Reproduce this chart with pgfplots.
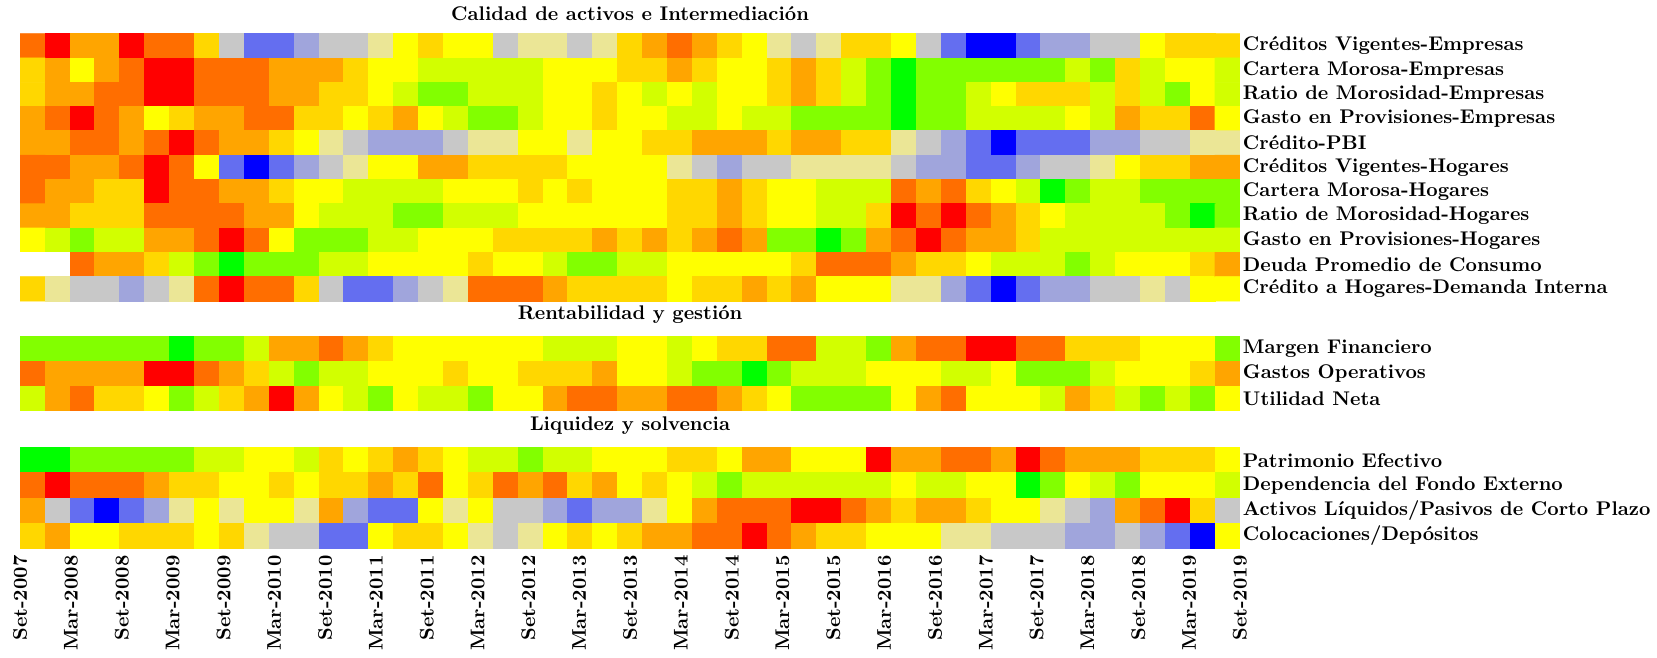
\documentclass[border=0pt]{standalone}
\usepackage{pgfplots}
\pgfplotsset{compat=1.18}
\begin{document}
\pgfplotsset{
  hm/.style={
    scale only axis, width=616pt, xmin=-0.5, xmax=48.5,
    y dir=reverse, ymin=-0.5,
    axis line style={draw=none}, tick style={draw=none},
    yticklabel pos=right,
    yticklabel style={font=\bfseries, xshift=-2pt},
    title style={font=\bfseries, yshift=-3pt},
    colormap={hmc}{rgb255=(0,0,255) rgb255=(100,110,240) rgb255=(160,165,220) rgb255=(200,200,200) rgb255=(235,230,150) rgb255=(255,255,0) rgb255=(255,215,0) rgb255=(255,165,0) rgb255=(255,110,0) rgb255=(255,0,0) rgb255=(210,255,0) rgb255=(130,255,0) rgb255=(0,255,0) rgb255=(255,255,255)},
    colormap access=direct,
    xtick={-0.5,1.542,3.583,5.625,7.667,9.708,11.75,13.792,15.833,17.875,19.917,21.958,24,26.042,28.083,30.125,32.167,34.208,36.25,38.292,40.333,42.375,44.417,46.458,48.5},
    xticklabels={},
  },
  hmplot/.style={matrix plot*, mesh/cols=49, point meta=explicit},
  table/hmtab/.style={header=false, x expr={round(mod(\coordindex,49))}, y expr={floor((\coordindex+0.5)/49)}, meta index=0, row sep=\\},
}
\begin{tikzpicture}
\begin{axis}[hm, at={(0,0)}, anchor=north west, height=135pt, ymax=10.5,
  title={Calidad de activos e Intermediación}, ytick={0,...,10},
  yticklabels={Créditos Vigentes-Empresas,Cartera Morosa-Empresas,Ratio de Morosidad-Empresas,Gasto en Provisiones-Empresas,Crédito-PBI,Créditos Vigentes-Hogares,Cartera Morosa-Hogares,Ratio de Morosidad-Hogares,Gasto en Provisiones-Hogares,Deuda Promedio de Consumo,Crédito a Hogares-Demanda Interna}]
\addplot[hmplot, mesh/rows=11] table[hmtab] {
8\\9\\7\\7\\9\\8\\8\\6\\3\\1\\1\\2\\3\\3\\4\\5\\6\\5\\5\\3\\4\\4\\3\\4\\6\\7\\8\\7\\6\\5\\4\\3\\4\\6\\6\\5\\3\\1\\0\\0\\1\\2\\2\\3\\3\\5\\6\\6\\6\\
6\\7\\5\\7\\8\\9\\9\\8\\8\\8\\7\\7\\7\\6\\5\\5\\10\\10\\10\\10\\10\\5\\5\\5\\6\\6\\7\\6\\5\\5\\6\\7\\6\\10\\11\\12\\11\\11\\11\\11\\11\\11\\10\\11\\6\\10\\5\\5\\10\\
6\\7\\7\\8\\8\\9\\9\\8\\8\\8\\7\\7\\6\\6\\5\\10\\11\\11\\10\\10\\10\\5\\5\\6\\5\\10\\5\\10\\5\\5\\6\\7\\6\\10\\11\\12\\11\\11\\10\\5\\6\\6\\6\\10\\6\\10\\11\\5\\10\\
7\\8\\9\\8\\7\\5\\6\\7\\7\\8\\8\\6\\6\\5\\6\\7\\5\\10\\11\\11\\10\\5\\5\\6\\5\\5\\10\\10\\5\\10\\10\\11\\11\\11\\11\\12\\11\\11\\10\\10\\10\\10\\5\\10\\7\\6\\6\\8\\5\\
7\\7\\8\\8\\7\\8\\9\\8\\7\\7\\6\\5\\4\\3\\2\\2\\2\\3\\4\\4\\5\\5\\4\\5\\5\\6\\6\\7\\7\\7\\6\\7\\7\\6\\6\\4\\3\\2\\1\\0\\1\\1\\1\\2\\2\\3\\3\\4\\4\\
8\\8\\7\\7\\8\\9\\8\\5\\1\\0\\1\\2\\3\\4\\5\\5\\7\\7\\6\\6\\6\\6\\5\\5\\5\\5\\4\\3\\2\\3\\3\\4\\4\\4\\4\\3\\2\\2\\1\\1\\2\\3\\3\\4\\5\\6\\6\\7\\7\\
8\\7\\7\\6\\6\\9\\8\\8\\7\\7\\6\\5\\5\\10\\10\\10\\10\\5\\5\\5\\6\\5\\6\\5\\5\\5\\6\\6\\7\\6\\5\\5\\10\\10\\10\\8\\7\\8\\6\\5\\10\\12\\11\\10\\10\\11\\11\\11\\11\\
7\\7\\6\\6\\6\\8\\8\\8\\8\\7\\7\\5\\10\\10\\10\\11\\11\\10\\10\\10\\5\\5\\5\\5\\5\\5\\6\\6\\7\\6\\5\\5\\10\\10\\6\\9\\8\\9\\8\\7\\6\\5\\10\\10\\10\\10\\11\\12\\11\\
5\\10\\11\\10\\10\\7\\7\\8\\9\\8\\5\\11\\11\\11\\10\\10\\5\\5\\5\\6\\6\\6\\6\\7\\6\\7\\6\\7\\8\\7\\11\\11\\12\\11\\7\\8\\9\\8\\7\\7\\6\\10\\10\\10\\10\\10\\10\\10\\10\\
13\\13\\8\\7\\7\\6\\10\\11\\12\\11\\11\\11\\10\\10\\5\\5\\5\\5\\6\\5\\5\\10\\11\\11\\10\\10\\5\\5\\5\\5\\5\\6\\8\\8\\8\\7\\6\\6\\5\\10\\10\\10\\11\\10\\5\\5\\5\\6\\7\\
6\\4\\3\\3\\2\\3\\4\\8\\9\\8\\8\\6\\3\\1\\1\\2\\3\\4\\8\\8\\8\\7\\6\\6\\6\\6\\5\\6\\6\\7\\6\\7\\5\\5\\5\\4\\4\\2\\1\\0\\1\\2\\2\\3\\3\\4\\3\\5\\5\\
};
\end{axis}
\begin{axis}[hm, at={(0,-153pt)}, anchor=north west, height=37.5pt, ymax=2.5,
  title={Rentabilidad y gestión}, ytick={0,1,2},
  yticklabels={Margen Financiero,Gastos Operativos,Utilidad Neta}]
\addplot[hmplot, mesh/rows=3] table[hmtab] {
11\\11\\11\\11\\11\\11\\12\\11\\11\\10\\7\\7\\8\\7\\6\\5\\5\\5\\5\\5\\5\\10\\10\\10\\5\\5\\10\\5\\6\\6\\8\\8\\10\\10\\11\\7\\8\\8\\9\\9\\8\\8\\6\\6\\6\\5\\5\\5\\11\\
8\\7\\7\\7\\7\\9\\9\\8\\7\\6\\10\\11\\10\\10\\5\\5\\5\\6\\5\\5\\6\\6\\6\\7\\5\\5\\10\\11\\11\\12\\11\\10\\10\\10\\5\\5\\5\\10\\10\\5\\11\\11\\11\\10\\5\\5\\5\\6\\7\\
10\\7\\8\\6\\6\\5\\11\\10\\6\\7\\9\\7\\5\\10\\11\\5\\10\\10\\11\\5\\5\\7\\8\\8\\7\\7\\8\\8\\7\\6\\5\\11\\11\\11\\11\\5\\7\\8\\5\\5\\5\\10\\7\\6\\10\\11\\10\\11\\5\\
};
\end{axis}
\begin{axis}[hm, at={(0,-209pt)}, anchor=north west, height=51pt, ymax=3.5,
  title={Liquidez y solvencia}, ytick={0,...,3},
  yticklabels={Patrimonio Efectivo,Dependencia del Fondo Externo,Activos Líquidos/Pasivos de Corto Plazo,Colocaciones/Depósitos},
  xticklabels={Set-2007,Mar-2008,Set-2008,Mar-2009,Set-2009,Mar-2010,Set-2010,Mar-2011,Set-2011,Mar-2012,Set-2012,Mar-2013,Set-2013,Mar-2014,Set-2014,Mar-2015,Set-2015,Mar-2016,Set-2016,Mar-2017,Set-2017,Mar-2018,Set-2018,Mar-2019,Set-2019},
  xticklabel style={font=\bfseries, rotate=90, anchor=east}]
\addplot[hmplot, mesh/rows=4] table[hmtab] {
12\\12\\11\\11\\11\\11\\11\\10\\10\\5\\5\\10\\6\\5\\6\\7\\6\\5\\10\\10\\11\\10\\10\\5\\5\\5\\6\\6\\5\\7\\7\\5\\5\\5\\9\\7\\7\\8\\8\\7\\9\\8\\7\\7\\7\\6\\6\\6\\5\\
8\\9\\8\\8\\8\\7\\6\\6\\5\\5\\6\\5\\6\\6\\7\\6\\8\\5\\6\\8\\7\\8\\6\\7\\5\\6\\5\\10\\11\\10\\10\\10\\10\\10\\10\\5\\10\\10\\5\\5\\12\\11\\5\\10\\11\\5\\5\\5\\10\\
7\\3\\1\\0\\1\\2\\4\\5\\4\\5\\5\\4\\7\\2\\1\\1\\5\\4\\5\\3\\3\\2\\1\\2\\2\\4\\5\\7\\8\\8\\8\\9\\9\\8\\7\\6\\7\\7\\6\\5\\5\\4\\3\\2\\7\\8\\9\\6\\3\\
6\\7\\5\\5\\6\\6\\6\\5\\6\\4\\3\\3\\1\\1\\5\\6\\6\\5\\4\\3\\4\\5\\6\\5\\6\\7\\7\\8\\8\\9\\8\\7\\6\\6\\5\\5\\5\\4\\4\\3\\3\\3\\2\\2\\3\\2\\1\\0\\5\\
};
\end{axis}
\end{tikzpicture}
\end{document}
